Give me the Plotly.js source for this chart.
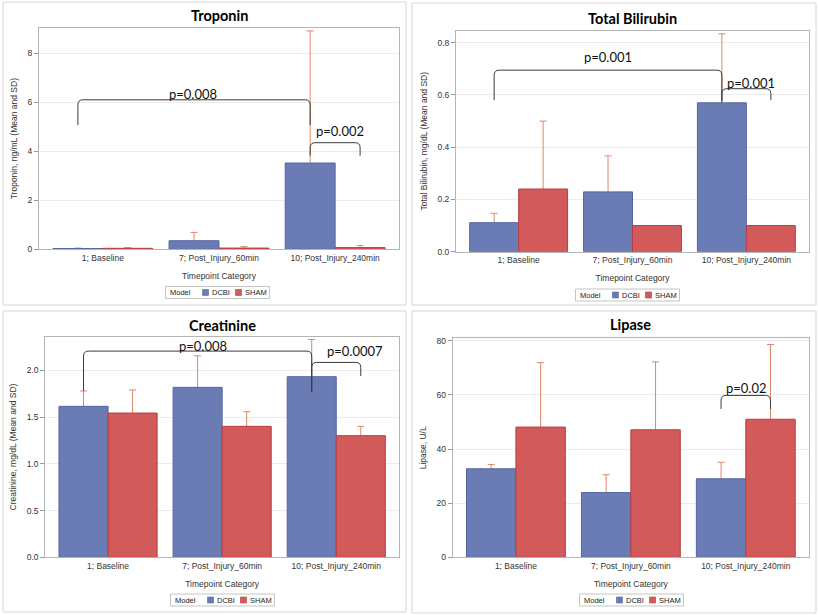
<!DOCTYPE html>
<html><head><meta charset="utf-8">
<script src="https://cdn.plot.ly/plotly-3.0.1.min.js"></script>
<style>html,body{margin:0;padding:0;background:#fff}#chart{width:818px;height:615px}</style>
</head><body><div id="chart"></div>
<script>
// ---------- data ----------
const categories = ['1; Baseline', '7; Post_Injury_60min', '10; Post_Injury_240min'];
const seriesNames = ['DCBI', 'SHAM'];

const troponinDCBI = [0.03, 0.35, 3.52];
const troponinDCBI_SD = [0.02, 0.34, 5.39];
const troponinSHAM = [0.04, 0.05, 0.07];
const troponinSHAM_SD = [0.03, 0.06, 0.08];

const bilirubinDCBI = [0.111, 0.229, 0.570];
const bilirubinDCBI_SD = [0.036, 0.138, 0.264];
const bilirubinSHAM = [0.240, 0.100, 0.100];
const bilirubinSHAM_SD = [0.260, null, null];

const creatinineDCBI = [1.615, 1.818, 1.932];
const creatinineDCBI_SD = [0.164, 0.338, 0.398];
const creatinineSHAM = [1.543, 1.401, 1.301];
const creatinineSHAM_SD = [0.247, 0.156, 0.100];

const lipaseDCBI = [32.7, 23.9, 29.0];
const lipaseDCBI_SD = [1.6, 6.6, 6.1];
const lipaseSHAM = [48.1, 47.1, 51.0];
const lipaseSHAM_SD = [23.8, 25.1, 27.6];

const panelTitles = ['Troponin', 'Total Bilirubin', 'Creatinine', 'Lipase'];
const yTitles = ['Troponin, ng/mL (Mean and SD)', 'Total Bilirubin, mg/dL (Mean and SD)',
                 'Creatinine, mg/dL (Mean and SD)', 'Lipase, U/L'];
const xTitle = 'Timepoint Category';
const legendTitle = 'Model';

// ---------- layout config ----------
const W = 818, H = 615;
const BARGAP = 0.14;
const colors = {DCBI: '#6b7cb4', SHAM: '#d25a5a'};
const lineColors = {DCBI: '#5466a2', SHAM: '#b53f3f'};
const errColor = '#e0876a';
const tickFont = {family: 'Liberation Sans, Arial, sans-serif', size: 8.5, color: '#333'};
const legFont = {family: 'Liberation Sans, Arial, sans-serif', size: 7.5, color: '#222'};
const pFont = {family: 'Lato, Open Sans, sans-serif', size: 13, color: '#111'};

// plot areas in px: [left, top, right, bottom]
const panels = [
  {box: [39, 28, 399, 249.3], frame: [3, 2, 406, 305], legendPos: [217.5, 292.5], titleY: 16,
   dcbi: troponinDCBI, dcbiSD: troponinDCBI_SD, sham: troponinSHAM, shamSD: troponinSHAM_SD,
   yrange: [0, 9.03], dtick: 2, fmt: 'd',
   brackets: [
     {from: [0, 0], to: [2, 0], top: 6.1, leg: [5.07, 5.07]},
     {from: [2, 0], to: [2, 1], top: 4.35, leg: [3.82, 3.82]}],
   labels: [{t: 'p=0.008', x: 0.776, y: 6.34}, {t: 'p=0.002', x: 2.043, y: 4.83}]},
  {box: [456, 30.7, 809, 251.7], frame: [412, 3, 816, 305], legendPos: [627.5, 295], titleY: 19,
   dcbi: bilirubinDCBI, dcbiSD: bilirubinDCBI_SD, sham: bilirubinSHAM, shamSD: bilirubinSHAM_SD,
   yrange: [0, 0.846], dtick: 0.2, fmt: '.1f',
   brackets: [
     {from: [0, 0], to: [2, 0], top: 0.695, leg: [0.58, 0.58]},
     {from: [2, 0], to: [2, 1], top: 0.624, leg: [0.572, 0.58]}],
   labels: [{t: 'p=0.001', x: 0.789, y: 0.745}, {t: 'p=0.001', x: 2.044, y: 0.646}]},
  {box: [45.3, 336.7, 399, 557.3], frame: [3, 311, 406, 612], legendPos: [222.5, 600], titleY: 325,
   dcbi: creatinineDCBI, dcbiSD: creatinineDCBI_SD, sham: creatinineSHAM, shamSD: creatinineSHAM_SD,
   yrange: [0, 2.36], dtick: 0.5, fmt: '.1f',
   brackets: [
     {from: [0, 0], to: [2, 0], top: 2.206, leg: [1.78, 1.78]},
     {from: [2, 0], to: [2, 1], top: 2.085, leg: [1.77, 1.94]}],
   labels: [{t: 'p=0.008', x: 0.834, y: 2.263}, {t: 'p=0.0007', x: 2.165, y: 2.21}]},
  {box: [452.7, 338.3, 809, 557.3], frame: [412, 311, 816, 613], legendPos: [631.5, 600], titleY: 324.3,
   dcbi: lipaseDCBI, dcbiSD: lipaseDCBI_SD, sham: lipaseSHAM, shamSD: lipaseSHAM_SD,
   yrange: [0, 80.9], dtick: 20, fmt: 'd',
   brackets: [
     {from: [2, 0], to: [2, 1], top: 59.8, leg: [54.8, 54.8]}],
   labels: [{t: 'p=0.02', x: 2.009, y: 62.6}]}
];

const px2x = v => v / W;
const px2y = v => 1 - v / H;
const XR = [-0.55, 2.55];
const barOffset = (1 - BARGAP) / 4;
const barX = (cat, s) => cat + (s === 0 ? -barOffset : barOffset);

const data = [];
const layout = {
  width: W, height: H,
  margin: {l: 0, r: 0, t: 0, b: 0},
  paper_bgcolor: '#fff', plot_bgcolor: '#fff',
  barmode: 'group', bargap: BARGAP, bargroupgap: 0,
  showlegend: false,
  annotations: [], shapes: []
};

panels.forEach((p, i) => {
  const n = i === 0 ? '' : String(i + 1);
  const on = String(i + 5);           // overlay axes that hold the bars (drawn above error bars)
  const xa = 'x' + n, ya = 'y' + n;
  const [l, t, r, b] = p.box;
  const series = [[p.dcbi, p.dcbiSD], [p.sham, p.shamSD]];
  // error bars (symmetric) on base axes, hidden under the bars below the mean
  series.forEach(([vals, sd], s) => {
    data.push({
      type: 'bar', x: categories, y: vals, name: seriesNames[s] + ' SD',
      xaxis: xa, yaxis: ya, showlegend: false,
      marker: {color: 'rgba(0,0,0,0)', line: {width: 0}},
      error_y: {type: 'data', symmetric: true, array: sd,
                color: errColor, thickness: 1, width: 3.5},
      hoverinfo: 'skip'
    });
  });
  // bars on overlay axes
  series.forEach(([vals], s) => {
    const name = seriesNames[s];
    data.push({
      type: 'bar', x: categories, y: vals, name: name,
      xaxis: 'x' + on, yaxis: 'y' + on, showlegend: false,
      marker: {color: colors[name], line: {color: lineColors[name], width: 1}},
      hoverinfo: 'skip'
    });
  });
  const xCommon = {type: 'category', categoryorder: 'array', categoryarray: categories, range: XR};
  layout['xaxis' + n] = Object.assign({
    domain: [px2x(l), px2x(r)], anchor: ya,
    showline: true, mirror: true, linecolor: '#b4b4b4', linewidth: 1,
    ticks: '', tickfont: tickFont, showgrid: false, zeroline: false,
    title: {text: xTitle, font: tickFont, standoff: 11}
  }, xCommon);
  layout['yaxis' + n] = {
    domain: [px2y(b), px2y(t)], anchor: xa, range: p.yrange, dtick: p.dtick,
    tick0: 0, tickformat: p.fmt,
    showline: true, mirror: true, linecolor: '#b4b4b4', linewidth: 1,
    ticks: 'outside', ticklen: 4, tickcolor: '#999', tickfont: tickFont,
    showgrid: true, gridcolor: '#ececec', zeroline: false,
    title: {text: yTitles[i], font: tickFont, standoff: 8}
  };
  layout['xaxis' + on] = Object.assign({overlaying: xa, anchor: 'y' + on, visible: false}, xCommon);
  layout['yaxis' + on] = {overlaying: ya, anchor: 'x' + on, visible: false, range: p.yrange};

  // panel title
  layout.annotations.push({
    text: '<b>' + panelTitles[i] + '</b>', xref: 'paper', yref: 'paper',
    x: px2x((l + r) / 2), y: px2y(p.titleY), xanchor: 'center', yanchor: 'middle',
    showarrow: false, font: {family: 'Lato, Open Sans, sans-serif', size: 14.5, color: '#000'}
  });
  // panel frame
  const [fl, ft, fr, fb] = p.frame;
  layout.shapes.push({type: 'rect', xref: 'paper', yref: 'paper', layer: 'below',
    x0: px2x(fl), x1: px2x(fr), y0: px2y(fb), y1: px2y(ft),
    line: {color: '#d6d6d6', width: 1}});

  // legend (box, title, swatches, labels)
  const [cx, cy] = p.legendPos;
  layout.shapes.push({type: 'rect', xref: 'paper', yref: 'paper',
    x0: px2x(cx - 52), x1: px2x(cx + 52), y0: px2y(cy + 6), y1: px2y(cy - 6),
    line: {color: '#c4c4c4', width: 1}, fillcolor: '#fff'});
  layout.annotations.push({text: legendTitle, xref: 'paper', yref: 'paper',
    x: px2x(cx - 50), y: px2y(cy), xanchor: 'left', yanchor: 'middle', showarrow: false, font: legFont});
  const sw = [[-15, 'DCBI'], [18, 'SHAM']];
  sw.forEach(([dx, name]) => {
    layout.shapes.push({type: 'rect', xref: 'paper', yref: 'paper',
      x0: px2x(cx + dx), x1: px2x(cx + dx + 6), y0: px2y(cy + 3), y1: px2y(cy - 3),
      line: {color: lineColors[name], width: 0.6}, fillcolor: colors[name]});
    layout.annotations.push({text: name, xref: 'paper', yref: 'paper',
      x: px2x(cx + dx + 7), y: px2y(cy), xanchor: 'left', yanchor: 'middle', showarrow: false, font: legFont});
  });

  // significance brackets
  const pxPerX = (r - l) / (XR[1] - XR[0]);
  const pxPerY = (b - t) / (p.yrange[1] - p.yrange[0]);
  const rad = 5, rx = rad / pxPerX, ry = rad / pxPerY;
  p.brackets.forEach(br => {
    const x0 = barX(br.from[0], br.from[1]), x1 = barX(br.to[0], br.to[1]);
    const yt = br.top;
    const path = `M${x0},${br.leg[0]} L${x0},${yt - ry} Q${x0},${yt} ${x0 + rx},${yt} ` +
                 `L${x1 - rx},${yt} Q${x1},${yt} ${x1},${yt - ry} L${x1},${br.leg[1]}`;
    layout.shapes.push({type: 'path', xref: xa, yref: ya, path: path,
      line: {color: '#3a3a3a', width: 1}});
  });
  p.labels.forEach(lb => {
    layout.annotations.push({text: lb.t, xref: xa, yref: ya, x: lb.x, y: lb.y,
      xanchor: 'center', yanchor: 'middle', showarrow: false, font: pFont});
  });
});

Plotly.newPlot('chart', data, layout, {displayModeBar: false, staticPlot: true});
</script></body></html>
